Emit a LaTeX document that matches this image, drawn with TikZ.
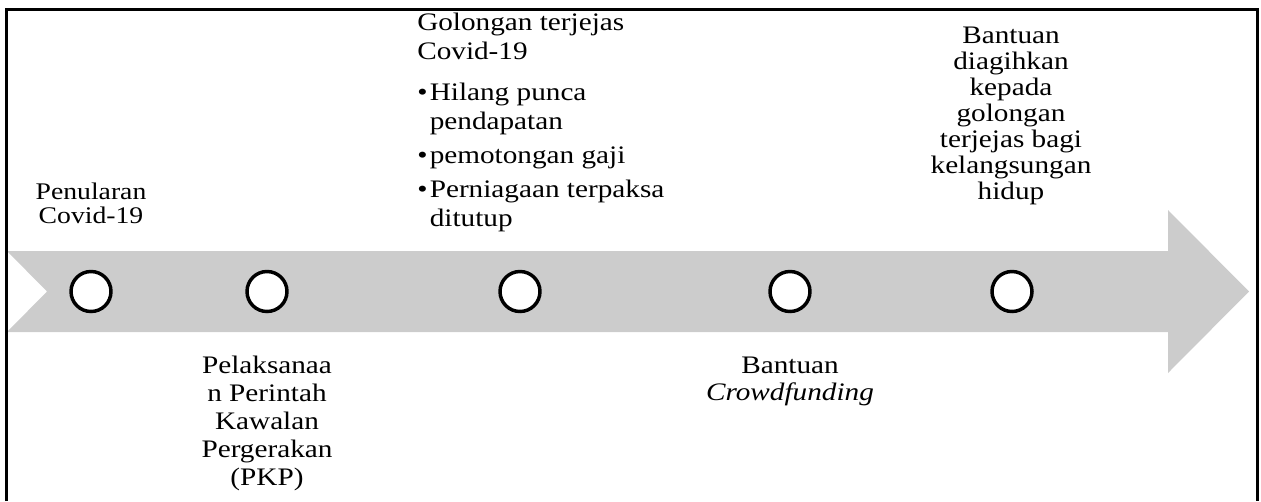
\documentclass[tikz,border=0pt]{standalone}
\usepackage{fontspec}
\setmainfont{Liberation Serif}[FakeStretch=1.16]
\definecolor{bandgray}{HTML}{CCCCCC}
\begin{document}
\begin{tikzpicture}[x=0.75pt,y=-0.75pt,
  milestone/.style={circle,draw=black,line width=2.6pt,fill=white,
    minimum size=30pt,inner sep=0pt},
  lbl/.style={inner sep=0pt,align=center,anchor=base},
  bul/.style={inner sep=0pt,align=left,anchor=base west}]
\useasboundingbox (0,0) rectangle (1261,501);

% timeline band with notched tail and arrow head
\fill[bandgray] (7,251) -- (1168,251) -- (1168,210) -- (1249,291.5)
  -- (1168,373) -- (1168,332) -- (7,332) -- (47,291.5) -- cycle;

% open frame
\draw[line width=2.25pt] (6.7,501) -- (6.7,9.7) -- (1257.5,9.7) -- (1257.5,501);

% milestones
\node[milestone] (m1) at (91,291.5) {};
\node[milestone] (m2) at (267,291.5) {};
\node[milestone] (m3) at (520,291.5) {};
\node[milestone] (m4) at (790,291.5) {};
\node[milestone] (m5) at (1012,291.5) {};

% labels (placed by the baseline of their last line)
\node[lbl,font=\fontsize{17.9pt}{18pt}\selectfont] (t1) at (91,223)
  {Penularan\\Covid-19};
\node[lbl,font=\fontsize{18.9pt}{21pt}\selectfont] (t2) at (267,485)
  {Pelaksanaa\\n Perintah\\Kawalan\\Pergerakan\\(PKP)};
\node[bul,font=\fontsize{18.9pt}{21.75pt}\selectfont] (t3) at (417,226)
  {Golongan terjejas\\Covid-19\\[9pt]%
   \makebox[9.4pt][l]{•}Hilang punca\\\hspace*{9.4pt}pendapatan\\[3.75pt]%
   \makebox[9.4pt][l]{•}pemotongan gaji\\[3.75pt]%
   \makebox[9.4pt][l]{•}Perniagaan terpaksa\\\hspace*{9.4pt}ditutup};
\node[lbl,font=\fontsize{18.9pt}{20.25pt}\selectfont] (t4) at (790,400)
  {Bantuan\\\textit{Crowdfunding}};
\node[lbl,font=\fontsize{18.9pt}{19.5pt}\selectfont] (t5) at (1011,199)
  {Bantuan\\diagihkan\\kepada\\golongan\\terjejas bagi\\kelangsungan\\hidup};
\end{tikzpicture}
\end{document}
